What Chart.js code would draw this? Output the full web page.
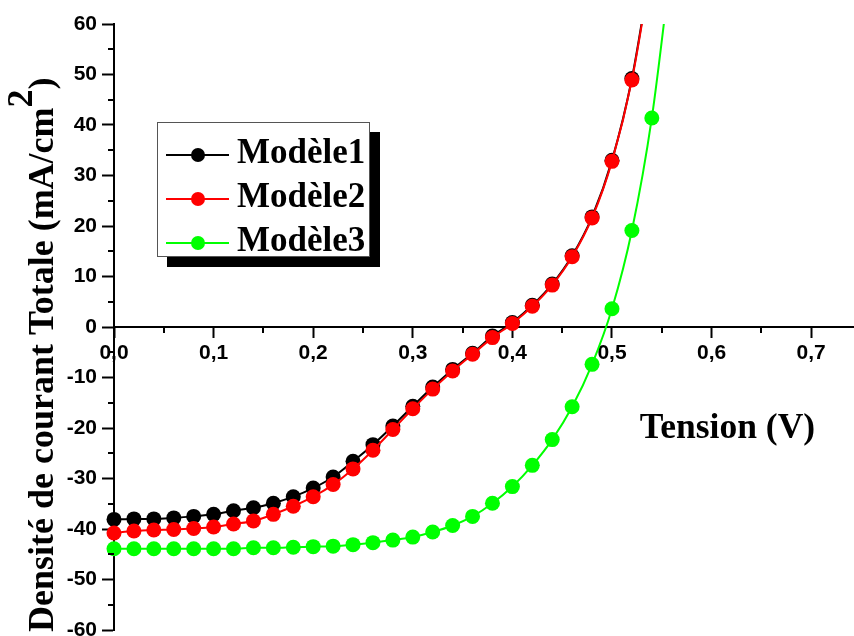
<!DOCTYPE html>
<html>
<head>
<meta charset="utf-8">
<script src="https://cdn.jsdelivr.net/npm/chart.js@4"></script>
<style>
  body { margin: 0; background: #fff; }
  #wrap { position: relative; width: 854px; height: 636px; }
  #legend {
    position: absolute; left: 157px; top: 122px;
    width: 213px; height: 135px; box-sizing: border-box;
    border: 1px solid #555; background: #fff;
    box-shadow: 10px 10px 0 #000;
    padding-top: 7px;
    font: bold 35px "Liberation Serif", "Times New Roman", serif;
    color: #000;
  }
  #legend .row { height: 44px; line-height: 44px; white-space: nowrap; }
  #legend .key {
    display: inline-block; position: relative; vertical-align: middle;
    width: 63px; height: 2px; margin: 0 8px 0 8px;
  }
  #legend .key::after {
    content: ""; position: absolute; left: 25px; top: -6px;
    width: 14px; height: 14px; border-radius: 50%; background: inherit;
  }
</style>
</head>
<body>
<div id="wrap">
  <canvas id="ivChart" width="854" height="636"></canvas>
  <div id="legend"></div>
</div>
<script>
// tension (V) and current density (mA/cm2) for the three models
const tension = [0, 0.02, 0.04, 0.06, 0.08, 0.10, 0.12, 0.14, 0.16, 0.18, 0.20, 0.22, 0.24, 0.26,
  0.28, 0.30, 0.32, 0.34, 0.36, 0.38, 0.40, 0.42, 0.44, 0.46, 0.48, 0.50, 0.52, 0.54, 0.56];
const modele1 = [-38.1, -38.0, -38.0, -37.8, -37.5, -37.1, -36.4, -35.8, -34.9, -33.6, -31.9, -29.7, -26.6, -23.3,
  -19.6, -15.7, -11.9, -8.4, -5.2, -1.8, 0.9, 4.3, 8.5, 14.1, 21.8, 33.0, 49.2, 72.5, null];
const modele2 = [-40.8, -40.4, -40.2, -40.1, -39.9, -39.6, -39.0, -38.4, -37.1, -35.5, -33.6, -31.2, -28.1, -24.4,
  -20.3, -16.2, -12.3, -8.7, -5.4, -2.1, 0.7, 4.1, 8.3, 13.9, 21.6, 32.8, 48.9, 72.0, null];
const modele3 = [-43.9, -43.9, -43.9, -43.9, -43.9, -43.9, -43.9, -43.7, -43.7, -43.6, -43.5, -43.4, -43.1, -42.7,
  -42.2, -41.6, -40.6, -39.3, -37.5, -34.9, -31.6, -27.4, -22.3, -15.8, -7.4, 3.6, 19.1, 41.4, 73.0];

const seriesNames = ["Modèle1", "Modèle2", "Modèle3"];
const seriesColors = ["#000000", "#ff0000", "#00ff00"];

const minorX = [0.05, 0.15, 0.25, 0.35, 0.45, 0.55, 0.65];
const minorY = [-55, -45, -35, -25, -15, -5, 5, 15, 25, 35, 45, 55];

const toPoints = vals => tension.map((t, i) => ({ x: t, y: vals[i] }));

function makeSet(i, vals, order) {
  return {
    label: seriesNames[i],
    data: toPoints(vals),
    borderColor: seriesColors[i],
    backgroundColor: seriesColors[i],
    borderWidth: 2,
    pointRadius: 7.5,
    pointBorderWidth: 0,
    pointBackgroundColor: seriesColors[i],
    cubicInterpolationMode: "monotone",
    clip: { left: 10, top: 0, right: 0, bottom: 0 },
    order: order
  };
}

// keep the axes from reserving extra room around the plot
function noPadding(scale) {
  scale.paddingTop = 0;
  scale.paddingBottom = 0;
  scale.paddingLeft = 0;
  scale.paddingRight = 0;
}

// small ticks between the labelled ones + free-standing axis titles
const axisExtras = {
  id: "axisExtras",
  afterDraw(chart) {
    const { ctx, scales: { x, y } } = chart;
    const x0 = x.getPixelForValue(0);
    const y0 = y.getPixelForValue(0);
    ctx.save();
    ctx.strokeStyle = "#000";
    ctx.lineWidth = 2;
    ctx.beginPath();
    minorX.forEach(v => {
      const px = Math.round(x.getPixelForValue(v));
      ctx.moveTo(px, y0);
      ctx.lineTo(px, y0 + 6);
    });
    minorY.forEach(v => {
      const py = Math.round(y.getPixelForValue(v));
      ctx.moveTo(x0 - 6, py);
      ctx.lineTo(x0, py);
    });
    ctx.stroke();

    ctx.fillStyle = "#000";
    ctx.textBaseline = "alphabetic";

    // x title inside the plot
    ctx.font = 'bold 35.5px "Liberation Serif", "Times New Roman", serif';
    ctx.textAlign = "left";
    ctx.fillText("Tension (V)", x.getPixelForValue(0.528), y.getPixelForValue(-21.9));

    // y title, rotated, with a raised 2
    ctx.translate(53, 632);
    ctx.rotate(-Math.PI / 2);
    ctx.font = 'bold 36px "Liberation Serif", "Times New Roman", serif';
    const main = "Densité de courant Totale (mA/cm";
    ctx.fillText(main, 0, 0);
    const w1 = ctx.measureText(main).width;
    ctx.fillText("2", w1, -21);
    const w2 = ctx.measureText("2").width;
    ctx.fillText(")", w1 + w2, 0);
    ctx.restore();
  }
};

new Chart(document.getElementById("ivChart"), {
  type: "line",
  data: {
    datasets: [
      makeSet(0, modele1, 2),
      makeSet(1, modele2, 1),
      makeSet(2, modele3, 3)
    ]
  },
  options: {
    responsive: false,
    animation: false,
    layout: { autoPadding: false, padding: { top: 24, bottom: 6, left: 0, right: 0 } },
    plugins: {
      legend: { display: false },
      tooltip: { enabled: false }
    },
    scales: {
      x: {
        type: "linear",
        position: { y: 0 },
        min: 0,
        max: 0.743,
        afterFit(scale) { scale.height = 0; noPadding(scale); },
        border: { color: "#000", width: 2 },
        grid: { drawOnChartArea: false, tickLength: 10, tickColor: "#000", tickWidth: 2 },
        ticks: {
          stepSize: 0.1,
          includeBounds: false,
          autoSkip: false,
          maxRotation: 0,
          padding: 4,
          color: "#000",
          font: { family: '"Liberation Sans", Arial, sans-serif', size: 21, weight: "bold" },
          callback: v => v.toFixed(1).replace(".", ",")
        }
      },
      y: {
        type: "linear",
        position: "left",
        min: -60,
        max: 60,
        afterFit(scale) { scale.width = 114; noPadding(scale); },
        border: { color: "#000", width: 2 },
        grid: { drawOnChartArea: false, tickLength: 12, tickColor: "#000", tickWidth: 2 },
        ticks: {
          stepSize: 10,
          padding: 5,
          color: "#000",
          font: { family: '"Liberation Sans", Arial, sans-serif', size: 21, weight: "bold" }
        }
      }
    }
  },
  plugins: [axisExtras]
});

// legend box with drop shadow
const legendBox = document.getElementById("legend");
seriesNames.forEach((name, i) => {
  const row = document.createElement("div");
  row.className = "row";
  const key = document.createElement("span");
  key.className = "key";
  key.style.background = seriesColors[i];
  row.appendChild(key);
  row.appendChild(document.createTextNode(name));
  legendBox.appendChild(row);
});
</script>
</body>
</html>
